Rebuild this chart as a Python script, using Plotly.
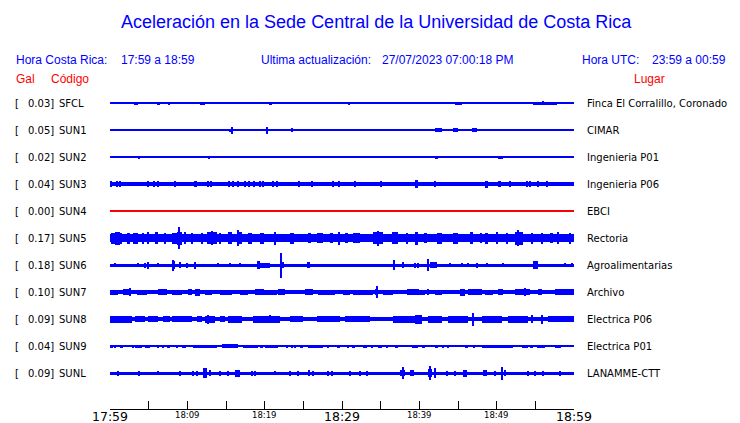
import plotly.graph_objects as go

# ---------------- data ----------------
codes = ["SFCL", "SUN1", "SUN2", "SUN3", "SUN4", "SUN5", "SUN6", "SUN7", "SUN8", "SUN9", "SUNL"]
gal = [0.03, 0.05, 0.02, 0.04, 0.00, 0.17, 0.18, 0.10, 0.09, 0.04, 0.09]
places = ["Finca El Corralillo, Coronado", "CIMAR", "Ingenieria P01", "Ingenieria P06", "EBCI",
          "Rectoria", "Agroalimentarias", "Archivo", "Electrica P06", "Electrica P01", "LANAMME-CTT"]
tick_minutes = [0, 10, 20, 30, 40, 50, 60]
tick_labels = ["17:59", "18:09", "18:19", "18:29", "18:39", "18:49", "18:59"]
tick_major = [True, False, False, True, False, False, True]

# background noise half-amplitude for each record (amplitude units)
base_amp = [0.5, 0.7, 0.5, 1.8, 0.5, 4.2, 1.5, 1.6, 2.4, 0.6, 1.5]

# bursts: (start minute, end minute, half-amplitude) after 17:59
bursts_SFCL = [(2.72,2.72,1),(3.10,3.62,1.5),(3.88,3.88,1),(4.66,4.66,1),(4.91,4.91,1),(5.43,5.43,1),
    (6.08,6.47,1.5),(7.50,7.76,1.5),(11.64,12.28,1.5),(13.84,13.84,1),(14.87,14.87,1),(15.91,15.91,1),
    (16.68,16.68,1),(20.04,20.04,1),(20.56,20.95,1.5),(22.89,22.89,1),(23.92,23.92,1),(26.25,26.25,1.2),
    (28.19,28.19,1),(29.74,29.74,1),(30.90,30.90,1.5),(32.84,32.84,1),(33.36,33.36,1),(37.89,37.89,1),
    (38.79,38.79,1),(39.31,39.31,1),(39.70,39.70,1),(41.12,41.12,1),(43.97,43.97,1),(44.61,45.52,1.5),
    (45.91,45.91,1),(46.55,46.55,1),(50.04,50.04,1),(50.56,50.56,1),(51.72,51.72,1),(52.76,52.76,1),
    (54.31,54.31,1.2),(54.70,57.80,1.5),(55.99,55.99,2),(59.87,59.87,1)]
bursts_SUN1 = [(1.55,1.68,1.2),(2.07,2.07,1.2),(2.33,4.14,1.3),(4.66,4.66,1.2),(4.91,4.91,1.2),
    (5.56,5.56,1.2),(6.21,6.85,1.3),(7.11,8.15,1.3),(8.53,8.53,1.2),(8.79,8.79,1.2),(9.31,9.31,1.2),
    (9.70,9.70,1.2),(10.34,11.25,1.3),(11.64,11.64,1.2),(12.28,13.97,1.3),(15.52,15.52,1.5),
    (15.78,15.78,3.5),(16.29,16.29,1.2),(16.81,16.81,1.2),(17.84,19.91,1.3),(19.40,21.98,1.3),
    (20.30,20.30,3.5),(22.63,24.18,1.3),(23.53,23.53,2),(24.96,24.96,1.2),(25.60,25.60,1.2),
    (26.25,28.45,1.3),(28.84,28.84,1.2),(29.35,29.35,1.2),(30.00,30.00,1.2),(30.65,30.65,1.2),
    (31.29,32.72,1.3),(33.23,33.23,1.2),(33.88,33.88,1.2),(34.66,34.66,1.2),(35.56,35.56,1.2),
    (36.59,37.89,1.3),(38.53,39.83,1.3),(40.09,41.12,1.3),(42.03,42.93,2),(43.32,43.71,1.3),
    (44.35,45.00,2),(45.91,45.91,1.2),(46.81,47.46,2.2),(47.59,49.78,1.3),(50.43,51.08,1.3),
    (51.72,51.72,1.2),(52.37,53.66,1.3),(54.31,54.96,1.3),(55.86,55.86,1.2),(56.90,56.90,1.2),
    (57.54,57.54,1.2),(59.10,60.00,1.3)]
bursts_SUN2 = [(1.16,1.16,1),(3.75,3.75,1.5),(8.02,8.02,1),(8.79,8.79,1),(10.34,10.34,1),(12.80,12.80,1.5),
    (15.26,16.16,1.3),(17.46,17.46,1),(17.97,17.97,1),(19.01,19.01,1),(20.30,20.43,1.2),(20.95,20.95,1),
    (21.34,21.34,1),(23.66,23.66,1),(25.22,25.22,1),(26.12,26.12,1),(29.61,29.61,1),(30.65,30.65,1),
    (37.50,37.50,1),(37.89,37.89,1),(39.70,39.70,1),(42.03,42.41,1.5),(47.07,47.07,1.3),(48.23,48.23,1),
    (48.75,48.75,1),(49.14,49.14,1),(50.17,50.82,1.5),(51.98,51.98,1),(53.28,53.28,1),(54.57,54.57,1),
    (56.25,56.25,1)]
bursts_SUN3 = [(0.13,0.26,3),(0.91,0.91,3),(1.29,1.29,3),(4.91,4.91,3),(5.69,5.69,3),(6.21,6.21,3),
    (8.41,8.41,3),(10.86,11.25,3),(12.67,12.67,3),(13.06,13.06,3),(15.26,15.52,3),(15.91,15.91,3),
    (16.55,16.55,3),(17.46,17.46,3),(17.97,17.97,3),(18.62,18.62,3),(19.40,19.40,3),(19.78,19.78,3),
    (21.08,21.08,3),(21.59,21.59,3),(24.31,24.57,3),(26.12,26.12,3),(28.84,28.84,3),(29.61,29.61,3),
    (31.68,31.68,3),(35.04,35.04,3),(39.44,39.83,4),(42.03,42.03,3),(48.49,48.88,3.5),(50.17,50.56,3),
    (51.72,51.72,3),(53.92,53.92,3),(54.31,54.31,3),(55.34,55.47,3),(56.51,56.51,3)]
bursts_SUN4 = []
bursts_SUN5 = [(0.13,1.55,5.5),(0.65,1.29,6.5),(2.20,2.60,5.5),(3.00,3.62,5.5),(4.20,4.40,5.5),(4.91,4.91,6),
    (5.82,6.21,6),(7.00,7.30,5.5),(8.02,8.66,5.5),(8.66,9.31,6.5),(8.92,8.92,11),(9.70,9.70,6),
    (10.60,10.60,5.5),(11.90,11.90,5.5),(12.54,13.84,6),(13.20,13.20,7),(14.22,14.22,5.5),(15.26,15.78,6),
    (16.42,17.07,6),(16.55,16.55,8),(17.84,18.40,5.5),(19.40,19.90,5.5),(21.34,21.34,6.5),(23.28,23.80,5.5),
    (25.60,26.00,5),(26.77,27.54,5),(28.40,28.80,5),(29.61,29.61,6.5),(30.40,30.80,5),
    (31.42,32.33,5),(34.01,35.30,6),(34.66,34.66,7.5),(36.47,37.24,6),(38.41,38.41,5.5),
    (39.44,39.83,6.5),(40.60,41.00,5),(42.28,42.93,5.5),(44.35,45.00,5.5),(46.55,46.94,6),(47.80,48.10,5),
    (48.49,48.88,5.5),(50.04,50.04,6),(51.34,51.34,5.5),(52.37,53.41,6.5),(52.76,52.76,8),(54.57,54.57,5.5),
    (55.86,55.86,5.5),(56.90,57.30,5),(57.93,57.93,6),(59.48,59.48,5.5)]
bursts_SUN6 = [(0.65,0.65,2),(3.62,3.62,2),(4.53,4.53,2.5),(4.91,4.91,3.5),(6.21,6.21,2),(8.02,8.41,4),
    (8.15,8.15,5.5),(9.05,9.05,3),(9.96,9.96,2.5),(10.99,10.99,3.5),(13.97,13.97,2),(15.52,15.52,2),
    (16.81,16.81,2),(19.01,19.40,4),(19.40,20.69,2.5),(22.11,22.11,12.5),(22.37,22.37,3),(25.47,25.86,3),
    (36.59,36.85,5),(37.76,38.02,3),(39.44,39.44,2.5),(39.83,39.83,2.5),(41.12,41.12,6),(41.38,42.28,3),
    (43.97,43.97,2),(45.52,45.52,2),(46.29,46.29,2),(47.46,47.59,2.5),(48.75,48.75,2),(50.82,50.82,2),
    (54.70,55.34,4),(58.84,58.84,2),(59.74,59.74,2)]
bursts_SUN7 = [(0.00,1.03,2.5),(1.68,2.59,3),(2.59,2.59,4),(3.49,4.78,2.5),(4.91,6.08,2),(6.21,7.37,3),
    (8.02,9.31,2.5),(10.09,10.60,3),(10.99,11.64,3.5),(12.28,13.19,2.5),(14.22,15.78,2.5),(16.81,17.84,2.5),
    (18.75,19.91,3),(19.40,21.59,2.5),(21.72,22.63,3),(25.22,26.25,3),(26.90,29.09,2.5),(30.13,31.03,2.5),
    (31.42,34.01,2.5),(34.27,34.66,3),(34.53,34.53,6),(35.30,36.59,2.5),(37.11,37.89,2),(38.41,39.96,3),
    (39.44,40.73,2.5),(41.12,41.12,3),(42.03,42.93,2.5),(45.26,45.91,3.5),(46.29,48.10,3),(48.49,49.53,2.5),
    (50.17,50.82,3),(52.37,54.31,3),(53.66,53.66,4),(55.34,55.86,3),(57.54,60.00,3)]
bursts_SUN8 = [(0.00,2.84,3.5),(3.23,4.53,3),(4.91,6.21,3),(6.85,7.76,3),(8.02,10.60,3),(11.25,11.90,3),
    (12.28,13.58,3.5),(12.67,12.67,4.5),(14.22,14.87,3),(15.26,17.07,3.5),(18.49,19.91,3.5),
    (19.40,21.98,3.5),(20.69,20.69,4),(23.28,24.96,3),(26.77,29.74,3),(30.39,33.62,3),(36.59,39.96,3.5),
    (39.70,39.70,4),(39.44,40.34,4.5),(41.12,42.93,3.5),(43.71,46.29,3.5),(46.94,46.94,6.5),
    (48.10,50.69,3.5),(51.47,54.05,3.5),(54.57,54.57,4),(55.86,55.86,4.5),(56.64,60.00,3)]
bursts_SUN9 = [(0.00,0.39,1.5),(0.65,0.65,1.5),(1.29,1.68,1.5),(2.97,2.97,1.5),(3.23,4.14,1.5),
    (4.53,5.17,1.5),(6.21,6.21,1.5),(6.85,6.85,1.5),(7.37,7.76,1.5),(8.66,8.79,1.5),(9.44,9.44,1.5),
    (9.70,9.70,1.5),(10.73,13.84,1.5),(14.48,16.55,1.8),(16.16,16.16,2),(17.20,19.14,1.5),(19.40,19.78,1.5),
    (20.04,21.72,1.5),(22.89,22.89,1.5),(23.53,23.53,1.5),(23.92,23.92,1.5),(24.57,24.96,1.5),
    (25.60,27.54,1.5),(28.19,28.19,1.5),(29.35,29.74,1.5),(30.78,30.78,1.5),(31.29,31.68,1.5),
    (32.72,33.23,1.5),(33.88,33.88,1.5),(34.66,35.17,1.5),(35.82,35.82,1.5),(36.85,37.24,1.5),
    (39.05,39.83,1.5),(40.34,40.73,1.5),(42.03,42.41,1.5),(43.06,43.06,1.5),(43.71,43.71,1.5),
    (45.91,46.29,1.5),(46.94,47.20,1.5),(48.10,52.11,1.5),(53.28,54.05,1.5),(54.31,54.70,1.5),
    (55.22,56.25,1.5),(57.54,58.32,1.5)]
bursts_SUNL = [(1.03,1.03,2.5),(3.75,3.75,2.5),(6.21,6.21,2),(9.05,9.05,2.5),(10.73,10.73,2.5),
    (11.25,11.25,2.5),(12.03,12.54,5),(12.93,12.93,3),(14.22,14.22,2.5),(15.26,15.26,2.5),(16.16,16.81,3.5),
    (18.36,18.36,2.5),(18.75,18.75,2.5),(21.34,21.34,2),(23.28,23.28,2.5),(24.31,24.31,2.5),
    (25.60,25.86,3),(26.25,26.25,2.5),(28.19,28.19,2.5),(28.71,28.71,2.5),(31.03,31.03,2.5),
    (32.33,32.33,2.5),(33.23,33.23,2.5),(37.50,38.15,3),(37.89,37.89,6),(38.79,39.31,3),(41.12,41.64,4),
    (41.38,41.38,7),(42.03,42.03,5),(43.58,43.58,2.5),(44.61,44.61,2.5),(45.65,46.16,3.5),
    (48.23,48.75,3),(49.78,49.78,2.5),(50.69,50.69,6.5),(51.08,51.08,3),(54.05,54.05,2.5),
    (54.96,54.96,2.5),(55.99,55.99,2.5),(58.19,58.19,2.5)]

all_bursts = [bursts_SFCL, bursts_SUN1, bursts_SUN2, bursts_SUN3, bursts_SUN4, bursts_SUN5,
              bursts_SUN6, bursts_SUN7, bursts_SUN8, bursts_SUN9, bursts_SUNL]

# ---------------- figure ----------------
W, H = 740, 423
L, R, T, B = 110, 166, 90, 14
ROW_PX = 27.0
AMP_SCALE = 1.0 / ROW_PX          # rows per amplitude unit
MIN_W = 0.16                       # minutes
nrows = len(codes)
plot_h = H - T - B
y_lo = -13.0 / ROW_PX
y_hi = y_lo + plot_h / ROW_PX

fig = go.Figure()
for i, code in enumerate(codes):
    color = "#ff0000" if gal[i] == 0 else "#0000ff"
    xs, ws, hs, bs = [30.0], [60.0], [2 * base_amp[i] * AMP_SCALE], [i - base_amp[i] * AMP_SCALE]
    for t0, t1, a in all_bursts[i]:
        w = max(t1 - t0, MIN_W)
        xs.append((t0 + t1) / 2)
        ws.append(w)
        hs.append(2 * a * AMP_SCALE)
        bs.append(i - a * AMP_SCALE)
    fig.add_trace(go.Bar(x=xs, y=hs, base=bs, width=ws, marker=dict(color=color, line=dict(width=0)),
                         hoverinfo="skip", showlegend=False))

fig.update_xaxes(range=[0, 60], showgrid=False, zeroline=False, showline=True, linecolor="black",
                 linewidth=1, ticks="inside", ticklen=8, tickcolor="black", tickwidth=1,
                 tickmode="array", tickvals=tick_minutes, showticklabels=False,
                 minor=dict(ticks="inside", ticklen=8, tickcolor="black", tick0=0, dtick=5),
                 fixedrange=True, automargin=False)
fig.update_yaxes(range=[y_hi, y_lo], visible=False, fixedrange=True)


def px(xp):
    return (xp - L) / (W - L - R)


def py(yp):
    return (H - B - yp) / plot_h


ann = []
blue = "#0000ff"
red = "#ff0000"
hdr = dict(family="Liberation Sans, Arial, sans-serif", size=12, color=blue)
ann.append(dict(text="Aceleración en la Sede Central de la Universidad de Costa Rica", x=px(376), y=py(22),
                xanchor="center", font=dict(family="Liberation Sans, Arial, sans-serif", size=18, color=blue)))
for txt, xp in [("Hora Costa Rica:", 15), ("17:59 a 18:59", 120), ("Ultima actualización:", 260),
                ("27/07/2023 07:00:18 PM", 381), ("Hora UTC:", 581), ("23:59 a 00:59", 651)]:
    ann.append(dict(text=txt, x=px(xp), y=py(60), xanchor="left", font=hdr))
for txt, xp in [("Gal", 15), ("Código", 50), ("Lugar", 633)]:
    ann.append(dict(text=txt, x=px(xp), y=py(79), xanchor="left",
                    font=dict(family="Liberation Sans, Arial, sans-serif", size=12, color=red)))
lab_font = dict(family="DejaVu Sans", size=10, color="black")
for i in range(nrows):
    ann.append(dict(text="[", x=px(14), y=i, yref="y", xanchor="left", font=lab_font))
    ann.append(dict(text=f"{gal[i]:.2f}]", x=px(55), y=i, yref="y", xanchor="right", font=lab_font))
    ann.append(dict(text=codes[i], x=px(58), y=i, yref="y", xanchor="left", font=lab_font))
    ann.append(dict(text=places[i], x=px(586), y=i, yref="y", xanchor="left", font=lab_font))
for a in ann:
    a["yanchor"] = "middle"
# time labels under the axis
for tm, lab, major in zip(tick_minutes, tick_labels, tick_major):
    if major:
        f = dict(family="DejaVu Sans", size=12.5, color="black")
        yc = 416.5
    else:
        f = dict(family="DejaVu Sans", size=8.5, color="black")
        yc = 414.5
    ann.append(dict(text=lab, x=tm, xref="x", y=py(yc), xanchor="center", yanchor="middle", font=f))
for a in ann:
    a.setdefault("xref", "paper")
    a.setdefault("yref", "paper")
    a["showarrow"] = False
    a["borderpad"] = 0

fig.update_layout(width=W, height=H, margin=dict(l=L, r=R, t=T, b=B, pad=0, autoexpand=False),
                  plot_bgcolor="white", paper_bgcolor="white", barmode="overlay", bargap=0,
                  showlegend=False, annotations=ann)

fig.write_html("out.html", config={"displayModeBar": False},
               post_script="document.body.style.margin='0';document.body.style.padding='0';")
